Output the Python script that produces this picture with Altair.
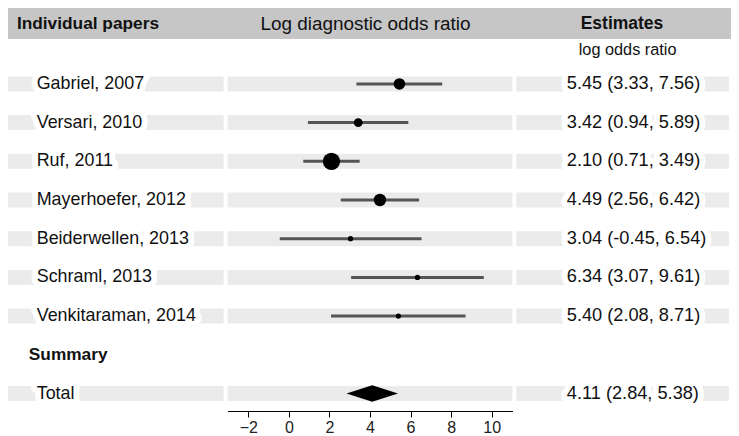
import altair as alt
import pandas as pd

# ---- data ----
papers = ["Gabriel, 2007", "Versari, 2010", "Ruf, 2011", "Mayerhoefer, 2012",
          "Beiderwellen, 2013", "Schraml, 2013", "Venkitaraman, 2014"]
est = [5.45, 3.42, 2.10, 4.49, 3.04, 6.34, 5.40]
lo = [3.33, 0.94, 0.71, 2.56, -0.45, 3.07, 2.08]
hi = [7.56, 5.89, 3.49, 6.42, 6.54, 9.61, 8.71]
weight = [17.7, 10.5, 39.9, 20.6, 3.8, 3.8, 3.8]   # relative study weights (marker area)

summary_label = "Total"
sum_est = 4.11
sum_lo = 2.84
sum_hi = 5.38

x_ticks = [-2, 0, 2, 4, 6, 8, 10]

# ---- layout / style ----
W, H = 723, 403
FONT = "Liberation Sans"
HEADER_GRAY = "#c6c6c6"
BAND_GRAY = "#ebebeb"

n = len(papers)
summary_row = n          # "Summary" heading row
total_row = n + 1

studies = pd.DataFrame({
    "row": list(range(n)),
    "paper": papers,
    "est": est, "lo": lo, "hi": hi, "weight": weight,
})
studies["label"] = [f"{e:.2f} ({l:.2f}, {h:.2f})" for e, l, h in zip(est, lo, hi)]

total = pd.DataFrame({
    "row": [total_row], "paper": [summary_label],
    "label": [f"{sum_est:.2f} ({sum_lo:.2f}, {sum_hi:.2f})"],
})
text_rows = pd.concat([studies[["row", "paper", "label"]], total], ignore_index=True)

hh = 0.21  # diamond half-height in row units
diamond = pd.DataFrame({
    "x": [sum_lo, sum_est, sum_hi],
    "y1": [total_row, total_row - hh, total_row],
    "y2": [total_row, total_row + hh, total_row],
})

xscale = alt.Scale(domain=[-3.02, 11.02], range=[219.6, 504.4], zero=False, nice=False)
yscale = alt.Scale(domain=[0, total_row], range=[75.9, 385.5], zero=False, nice=False)
xaxis = alt.Axis(values=x_ticks, grid=False, title=None, domainColor="black",
                 tickColor="black", tickSize=6, labelFontSize=16, labelColor="#222",
                 labelFont=FONT, labelPadding=2, domainWidth=1, tickWidth=1,
                 labelFlush=False)

Y = alt.Y("row:Q", scale=yscale, axis=None)
one = pd.DataFrame({"a": [0]})

header = alt.Chart(one).mark_rect(color=HEADER_GRAY).encode(
    x=alt.value(0), x2=alt.value(W), y=alt.value(0), y2=alt.value(31))

def band(x0, x1):
    return alt.Chart(text_rows).mark_rule(
        color=BAND_GRAY, strokeWidth=15, strokeCap="butt").encode(
        x=alt.value(x0), x2=alt.value(x1), y=Y)

bands = [band(0, 215.6), band(219.6, 504.4), band(508.3, 721)]

ci = alt.Chart(studies).mark_rule(color="#555555", strokeWidth=3).encode(
    x=alt.X("lo:Q", scale=xscale, axis=xaxis), x2="hi:Q", y=Y)

pts = alt.Chart(studies).mark_circle(color="black", opacity=1).encode(
    x=alt.X("est:Q", scale=xscale, axis=xaxis), y=Y,
    size=alt.Size("weight:Q", scale=alt.Scale(domain=[0, 40], range=[0, 300]), legend=None))

dia = alt.Chart(diamond).mark_area(color="black", opacity=1).encode(
    x=alt.X("x:Q", scale=xscale, axis=xaxis),
    y=alt.Y("y1:Q", scale=yscale, axis=None), y2="y2:Q")

def row_text(field, x0, size):
    halo = alt.Chart(text_rows).mark_text(
        align="left", baseline="middle", font=FONT, fontSize=size,
        fill="white", stroke="white", strokeWidth=12, strokeJoin="round").encode(
        x=alt.value(x0), y=Y, text=f"{field}:N")
    txt = alt.Chart(text_rows).mark_text(
        align="left", baseline="middle", font=FONT, fontSize=size, color="#111").encode(
        x=alt.value(x0), y=Y, text=f"{field}:N")
    return [halo, txt]

def label(text, x, y, size, bold=False, align="left"):
    return alt.Chart(one).mark_text(
        text=text, align=align, baseline="middle", font=FONT, fontSize=size,
        fontWeight="bold" if bold else "normal", color="#111").encode(
        x=alt.value(x), y=alt.value(y))

summary_head = alt.Chart(pd.DataFrame({"row": [summary_row]})).mark_text(
    text="Summary", align="left", baseline="middle", font=FONT, fontSize=17.3,
    fontWeight="bold", color="#111").encode(x=alt.value(20.8), y=Y)

layers = [header] + bands + [ci, pts, dia] + row_text("paper", 28.7, 17.9) + row_text("label", 558.8, 18.2) + [
    label("Individual papers", 8.9, 15.8, 17.3, bold=True),
    label("Log diagnostic odds ratio", 357.5, 15.8, 18.9, align="center"),
    label("Estimates", 614, 15.8, 17.5, bold=True, align="center"),
    label("log odds ratio", 619.6, 42.4, 16.3, align="center"),
    summary_head,
]

chart = alt.layer(*layers).properties(
    width=W, height=H, background="white",
    padding={"left": 0, "top": 0, "right": 0, "bottom": 26},
    autosize=alt.AutoSizeParams(type="none"),
).configure_view(stroke=None)

chart.save("out.html", embed_options={"renderer": "svg", "actions": False})
